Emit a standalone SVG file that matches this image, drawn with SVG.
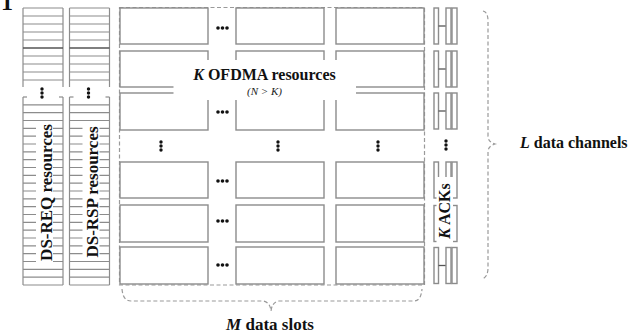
<svg xmlns="http://www.w3.org/2000/svg" xmlns:xlink="http://www.w3.org/1999/xlink" width="639" height="333" viewBox="0 0 639 333">
<style>
.cell{fill:#fff;stroke:#8c8c8c;stroke-width:1.4}
.ln{stroke:#8c8c8c;stroke-width:1.2}
.dk{stroke:#555;stroke-width:1.3}
.dash{fill:none;stroke:#9a9a9a;stroke-width:1.2;stroke-dasharray:4 2.5}
.mask{fill:#fff;stroke:none}
.t{font-family:"Liberation Serif","Times New Roman",serif;font-weight:bold;fill:#111}
.it{font-style:italic}
.dot{fill:#111}
</style>
<defs>
<g id="hdots"><circle class="dot" cx="-4.5" cy="0" r="1.8"/><circle class="dot" cx="0" cy="0" r="1.8"/><circle class="dot" cx="4.5" cy="0" r="1.8"/></g>
<g id="vdots"><circle class="dot" cx="0" cy="-4" r="1.7"/><circle class="dot" cx="0" cy="0" r="1.7"/><circle class="dot" cx="0" cy="4" r="1.7"/></g>
<g id="ackgrp">
<rect class="cell" x="434" y="0" width="4.5" height="36"/>
<line class="dk" x1="438.5" y1="18" x2="446" y2="18"/>
<rect class="cell" x="446" y="0" width="5" height="36"/>
<rect class="cell" x="452" y="0" width="5" height="36"/>
</g>
<g id="dscol">
<line class="ln" x1="23" y1="8" x2="23" y2="87"/>
<line class="ln" x1="63" y1="8" x2="63" y2="87"/>
<line class="ln" x1="23" y1="8" x2="63" y2="8"/>
<line class="ln" x1="23" y1="16" x2="63" y2="16"/>
<line class="ln" x1="23" y1="24" x2="63" y2="24"/>
<line class="ln" x1="23" y1="32" x2="63" y2="32"/>
<line class="ln" x1="23" y1="40" x2="63" y2="40"/>
<line class="dk" x1="23" y1="48" x2="63" y2="48"/>
<line class="ln" x1="23" y1="56" x2="63" y2="56"/>
<line class="ln" x1="23" y1="64" x2="63" y2="64"/>
<line class="ln" x1="23" y1="72" x2="63" y2="72"/>
<line class="ln" x1="23" y1="80" x2="63" y2="80"/>
<line class="ln" x1="23" y1="97" x2="23" y2="285"/>
<line class="ln" x1="63" y1="97" x2="63" y2="285"/>
<line class="ln" x1="23" y1="97" x2="27" y2="97"/>
<line class="ln" x1="59" y1="97" x2="63" y2="97"/>
<line class="ln" x1="23" y1="104.8" x2="63" y2="104.8"/>
<line class="ln" x1="23" y1="112.7" x2="63" y2="112.7"/>
<line class="ln" x1="23" y1="120.5" x2="63" y2="120.5"/>
<line class="ln" x1="23" y1="128.3" x2="63" y2="128.3"/>
<line class="ln" x1="23" y1="136.2" x2="63" y2="136.2"/>
<line class="ln" x1="23" y1="144" x2="63" y2="144"/>
<line class="ln" x1="23" y1="151.8" x2="63" y2="151.8"/>
<line class="ln" x1="23" y1="159.7" x2="63" y2="159.7"/>
<line class="ln" x1="23" y1="167.5" x2="63" y2="167.5"/>
<line class="ln" x1="23" y1="175.3" x2="63" y2="175.3"/>
<line class="ln" x1="23" y1="183.2" x2="63" y2="183.2"/>
<line class="ln" x1="23" y1="191" x2="63" y2="191"/>
<line class="ln" x1="23" y1="198.8" x2="63" y2="198.8"/>
<line class="ln" x1="23" y1="206.7" x2="63" y2="206.7"/>
<line class="ln" x1="23" y1="214.5" x2="63" y2="214.5"/>
<line class="ln" x1="23" y1="222.3" x2="63" y2="222.3"/>
<line class="ln" x1="23" y1="230.2" x2="63" y2="230.2"/>
<line class="ln" x1="23" y1="238" x2="63" y2="238"/>
<line class="ln" x1="23" y1="245.8" x2="63" y2="245.8"/>
<line class="ln" x1="23" y1="253.7" x2="63" y2="253.7"/>
<line class="ln" x1="23" y1="261.5" x2="63" y2="261.5"/>
<line class="ln" x1="23" y1="269.3" x2="63" y2="269.3"/>
<line class="ln" x1="23" y1="277.2" x2="63" y2="277.2"/>
<line class="ln" x1="23" y1="285" x2="63" y2="285"/>
<use xlink:href="#vdots" x="42" y="93"/>
</g>
</defs>
<rect width="639" height="333" fill="#fff"/>
<text class="t" x="1" y="10" font-size="24">1</text>

<g id="ds-req">
<use xlink:href="#dscol"/>
<rect class="mask" x="36" y="121" width="17" height="143"/>
<text class="t" font-size="17" text-anchor="middle" transform="translate(52,192.5) rotate(-90)">DS-REQ resources</text>
</g>
<g id="ds-rsp">
<use xlink:href="#dscol" transform="translate(46.5,0)"/>
<rect class="mask" x="82.5" y="123" width="17" height="138"/>
<text class="t" font-size="17" text-anchor="middle" transform="translate(98,192) rotate(-90)">DS-RSP resources</text>
</g>

<g id="grid">
<rect class="dash" x="119.5" y="7.5" width="305" height="277.5"/>
<rect class="cell" x="120" y="8" width="88" height="36"/>
<rect class="cell" x="236" y="8" width="88" height="36"/>
<rect class="cell" x="336" y="8" width="88" height="36"/>
<rect class="cell" x="120" y="51" width="88" height="36"/>
<rect class="cell" x="236" y="51" width="88" height="36"/>
<rect class="cell" x="336" y="51" width="88" height="36"/>
<rect class="cell" x="120" y="93" width="88" height="37"/>
<rect class="cell" x="236" y="93" width="88" height="37"/>
<rect class="cell" x="336" y="93" width="88" height="37"/>
<rect class="cell" x="120" y="162" width="88" height="36"/>
<rect class="cell" x="236" y="162" width="88" height="36"/>
<rect class="cell" x="336" y="162" width="88" height="36"/>
<rect class="cell" x="120" y="205" width="88" height="37"/>
<rect class="cell" x="236" y="205" width="88" height="37"/>
<rect class="cell" x="336" y="205" width="88" height="37"/>
<rect class="cell" x="120" y="247" width="88" height="37"/>
<rect class="cell" x="236" y="247" width="88" height="37"/>
<rect class="cell" x="336" y="247" width="88" height="37"/>
<rect class="mask" x="173.5" y="60" width="182.5" height="40"/>
<use xlink:href="#hdots" x="222.5" y="28"/>
<use xlink:href="#hdots" x="222.5" y="112"/>
<use xlink:href="#hdots" x="222.5" y="181"/>
<use xlink:href="#hdots" x="222.5" y="221"/>
<use xlink:href="#hdots" x="222.5" y="265"/>
<use xlink:href="#vdots" x="161" y="146"/>
<use xlink:href="#vdots" x="278" y="146"/>
<use xlink:href="#vdots" x="378" y="146"/>
<text class="t" font-size="16" text-anchor="middle" x="264.5" y="80"><tspan class="it">K</tspan> OFDMA resources</text>
<text font-family="Liberation Serif,serif" font-style="italic" font-size="11" fill="#222" text-anchor="middle" x="264.5" y="95">(N &gt; K)</text>
</g>

<g id="acks">
<use xlink:href="#ackgrp" y="8"/>
<use xlink:href="#ackgrp" y="51"/>
<use xlink:href="#ackgrp" y="93"/>
<use xlink:href="#ackgrp" y="162"/>
<use xlink:href="#ackgrp" y="205.5"/>
<use xlink:href="#ackgrp" y="247.5"/>
<use xlink:href="#vdots" x="446" y="145"/>
<rect class="mask" x="436.5" y="177" width="16.5" height="66"/>
<text class="t" font-size="16" text-anchor="middle" transform="translate(450,211) rotate(-90)"><tspan class="it">K</tspan> ACKs</text>
</g>

<g id="connectors">
<path class="dash" d="M483 11 Q488 12 488 21 L488 136 Q488 142 495 144 Q488 146 488 152 L488 268 Q488 277 482 279"/>
<path class="dash" d="M122 289 Q123 301 131 301 L263 301 Q270 302 271 311 Q272 302 279 301 L414 301 Q421 301 422 289"/>
</g>

<g id="labels">
<text class="t" font-size="16" x="520" y="148"><tspan class="it">L</tspan> data channels</text>
<text class="t" font-size="17" text-anchor="middle" x="270" y="330"><tspan class="it">M</tspan> data slots</text>
</g>
</svg>
